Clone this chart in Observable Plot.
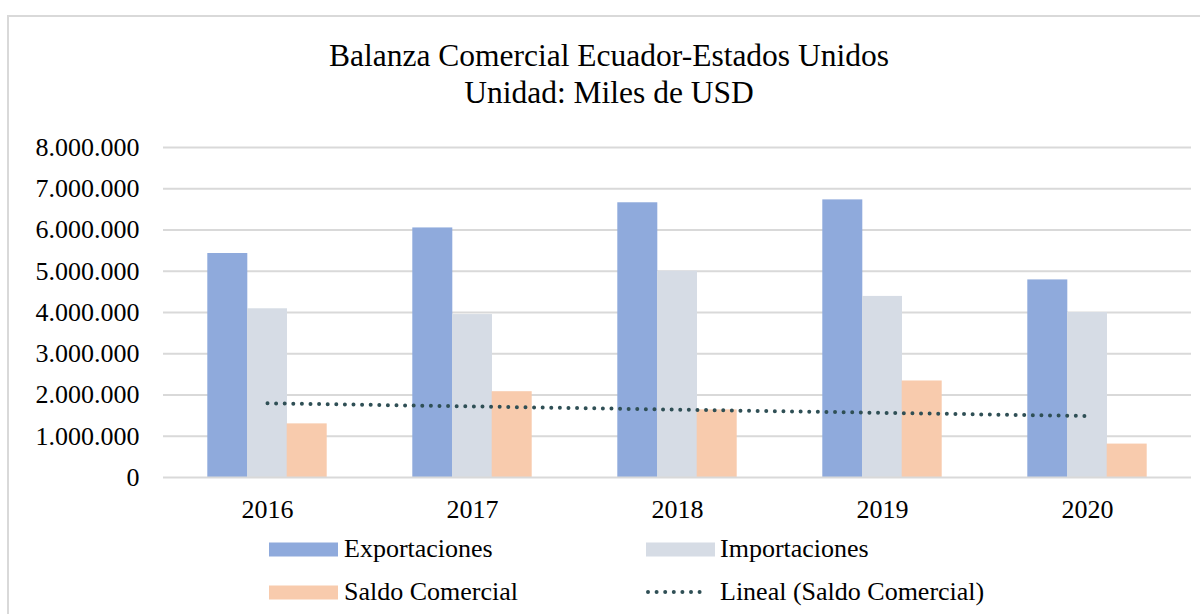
<!DOCTYPE html>
<html><head><meta charset="utf-8">
<script src="https://cdn.jsdelivr.net/npm/d3@7"></script>
<script src="https://cdn.jsdelivr.net/npm/@observablehq/plot@0.6"></script>
<style>
body{margin:0;background:#fff;}
#wrap{position:relative;width:1200px;height:614px;overflow:hidden;font-family:"Liberation Serif","Times New Roman",serif;background:#fff;}
#frame{position:absolute;left:7px;top:15px;width:1300px;height:700px;border-left:2px solid #d9d9d9;border-top:2px solid #d9d9d9;}
#chart{position:absolute;left:0;top:130px;}
#overlay{position:absolute;left:0;top:0;}
svg text{font-family:"Liberation Serif","Times New Roman",serif;}
</style></head><body>
<div id="wrap"><div id="frame"></div>
<svg id="overlay" width="1200" height="614"></svg>
<div id="chart"></div></div>
<script>
const years = ["2016", "2017", "2018", "2019", "2020"];
const exportaciones = [5430000, 6050000, 6660000, 6730000, 4790000];
const importaciones = [4090000, 3950000, 5000000, 4390000, 4000000];
const saldoComercial = [1300000, 2080000, 1640000, 2340000, 810000];
const trendYears = ["2016", "2020"];
const trendValues = [1800000, 1490000];
const yTicks = [0, 1000000, 2000000, 3000000, 4000000, 5000000, 6000000, 7000000, 8000000];
const seriesNames = ["Exportaciones", "Importaciones", "Saldo Comercial", "Lineal (Saldo Comercial)"];
const titleLines = ["Balanza Comercial Ecuador-Estados Unidos", "Unidad: Miles de USD"];
const colors = ["#8faadc", "#d6dce5", "#f8cbad", "#2f4f55"];

const rows = years.map((y, i) => ({year: y, exp: exportaciones[i], imp: importaciones[i], sal: saldoComercial[i]}));
const trend = trendYears.map((y, i) => ({year: y, v: trendValues[i]}));
const fmt = d => d3.format(",")(d).replace(/,/g, ".");
const bw = 39.7;

const chart = Plot.plot({
  width: 1200, height: 400,
  marginTop: 17, marginBottom: 53, marginLeft: 163, marginRight: 9,
  style: {fontFamily: "Liberation Serif, Times New Roman, serif", fontSize: "26px", color: "#000", background: "transparent"},
  x: {domain: years, paddingInner: 0.807, paddingOuter: 0.403, align: 0.5, label: null},
  y: {domain: [0, 8000000], label: null},
  marks: [
    Plot.gridY(yTicks.slice(1), {stroke: "#d9d9d9", strokeOpacity: 1, strokeWidth: 2}),
    Plot.axisY(yTicks, {tickSize: 0, tickPadding: 24, tickFormat: fmt, fontSize: 26, label: null}),
    Plot.axisX({tickSize: 0, tickPadding: 22, fontSize: 26, label: null}),
    Plot.barY(rows, {x: "year", y: "exp", fill: colors[0], dx: -bw}),
    Plot.barY(rows, {x: "year", y: "imp", fill: colors[1]}),
    Plot.barY(rows, {x: "year", y: "sal", fill: colors[2], dx: bw}),
    Plot.ruleY([0], {stroke: "#d9d9d9", strokeWidth: 2}),
    Plot.lineY(trend, {x: "year", y: "v", stroke: colors[3], strokeWidth: 4, strokeDasharray: "0 8.6", strokeLinecap: "round"})
  ]
});
document.getElementById("chart").appendChild(chart);

// Title and legend
const ns = "http://www.w3.org/2000/svg";
const ov = document.getElementById("overlay");
function el(tag, attrs, text) {
  const e = document.createElementNS(ns, tag);
  for (const k in attrs) e.setAttribute(k, attrs[k]);
  if (text != null) e.textContent = text;
  ov.appendChild(e);
  return e;
}
el("text", {x: 609, y: 66, "text-anchor": "middle", "font-size": 31.5, fill: "#000"}, titleLines[0]);
el("text", {x: 609, y: 103, "text-anchor": "middle", "font-size": 31.5, fill: "#000"}, titleLines[1]);

const legendPos = [
  {sx: 269, tx: 344, y: 557},
  {sx: 646, tx: 720, y: 557},
  {sx: 269, tx: 344, y: 600},
  {sx: 646, tx: 720, y: 600}
];
seriesNames.forEach((name, i) => {
  const p = legendPos[i];
  if (i < 3) {
    el("rect", {x: p.sx, y: p.y - 14.5, width: 69, height: 14, fill: colors[i]});
  } else {
    el("line", {x1: p.sx + 2, x2: p.sx + 62, y1: p.y - 8, y2: p.y - 8, stroke: colors[3], "stroke-width": 4, "stroke-dasharray": "0 8.6", "stroke-linecap": "round"});
  }
  el("text", {x: p.tx, y: p.y, "font-size": 26, fill: "#000"}, name);
});
</script>
</body></html>
